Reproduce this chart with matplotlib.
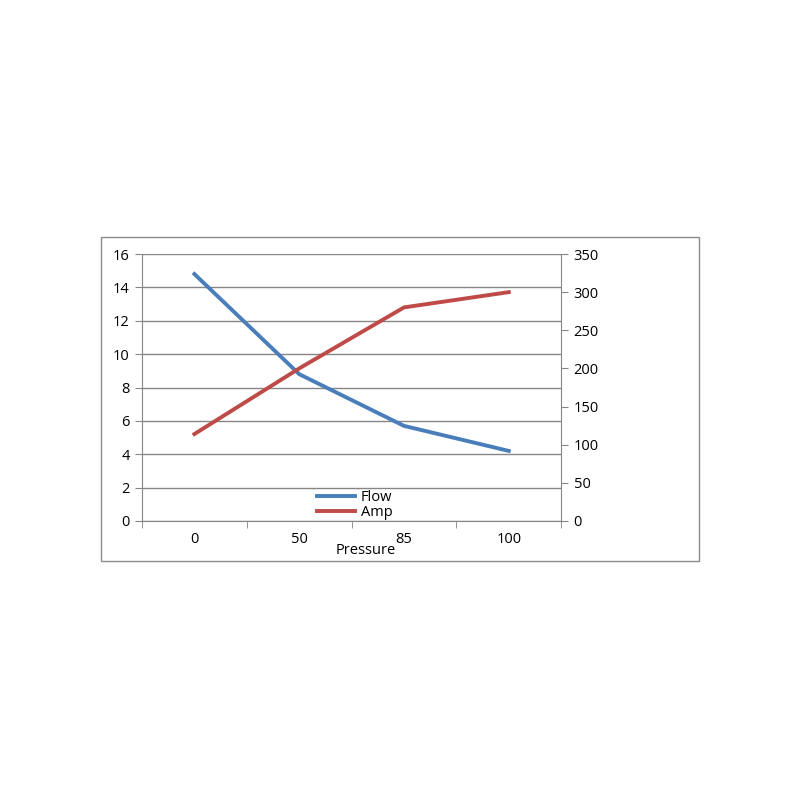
import matplotlib.pyplot as plt
from matplotlib.patches import Rectangle

pressure = ["0", "50", "85", "100"]
flow = [14.8, 8.8, 5.7, 4.2]
amp = [114, 200, 280, 300]

plt.rcParams['font.family'] = ['Open Sans', 'DejaVu Sans']

fig = plt.figure(figsize=(8, 8), dpi=100)
# outer chart border
fig.patches.append(Rectangle((0.12625, 0.29875), 0.7475, 0.405, transform=fig.transFigure,
                             fill=False, edgecolor='#8c8c8c', linewidth=1))

ax = fig.add_axes([0.1775, 0.34875, 0.524, 0.33375])
ax2 = ax.twinx()

x = list(range(len(pressure)))
l1, = ax.plot(x, flow, color='#4a7ebb', linewidth=2.8, label='Flow')
l2, = ax2.plot(x, amp, color='#be4b48', linewidth=2.8, label='Amp')

ax.set_xlim(-0.5, len(pressure) - 0.5)
ax.set_ylim(0, 16)
ax.set_yticks(range(0, 17, 2))
ax2.set_ylim(0, 350)
ax2.set_yticks(range(0, 351, 50))

ax.set_xticks(x)
ax.set_xticklabels(pressure)
ax.set_xticks([i - 0.5 for i in range(len(pressure) + 1)], minor=True)
ax.tick_params(axis='x', which='major', length=0, pad=8, labelsize=10.5)
ax.tick_params(axis='x', which='minor', length=5, color='#868686', direction='out')
ax.tick_params(axis='y', length=5, color='#868686', labelsize=10.5, pad=4)
ax2.tick_params(axis='y', length=5, color='#868686', labelsize=10.5, pad=4)

ax.grid(axis='y', color='#868686', linewidth=1)
ax.set_axisbelow(True)

for a in (ax, ax2):
    for s in a.spines.values():
        s.set_color('#868686')
    a.spines['top'].set_visible(False)
ax.spines['right'].set_visible(False)
ax2.spines['left'].set_visible(False)
ax2.spines['bottom'].set_visible(False)

fig.text(366 / 800, 1 - 551 / 800, 'Pressure', ha='center', va='center', fontsize=10.5)

fig.legend(handles=[l1, l2], loc='center left', bbox_to_anchor=(310 / 800, 1 - 505 / 800),
           frameon=False, fontsize=10.5, handlelength=2.6, handletextpad=0.4,
           labelspacing=0.0, borderpad=0)

fig.savefig('out.png', dpi=100)
